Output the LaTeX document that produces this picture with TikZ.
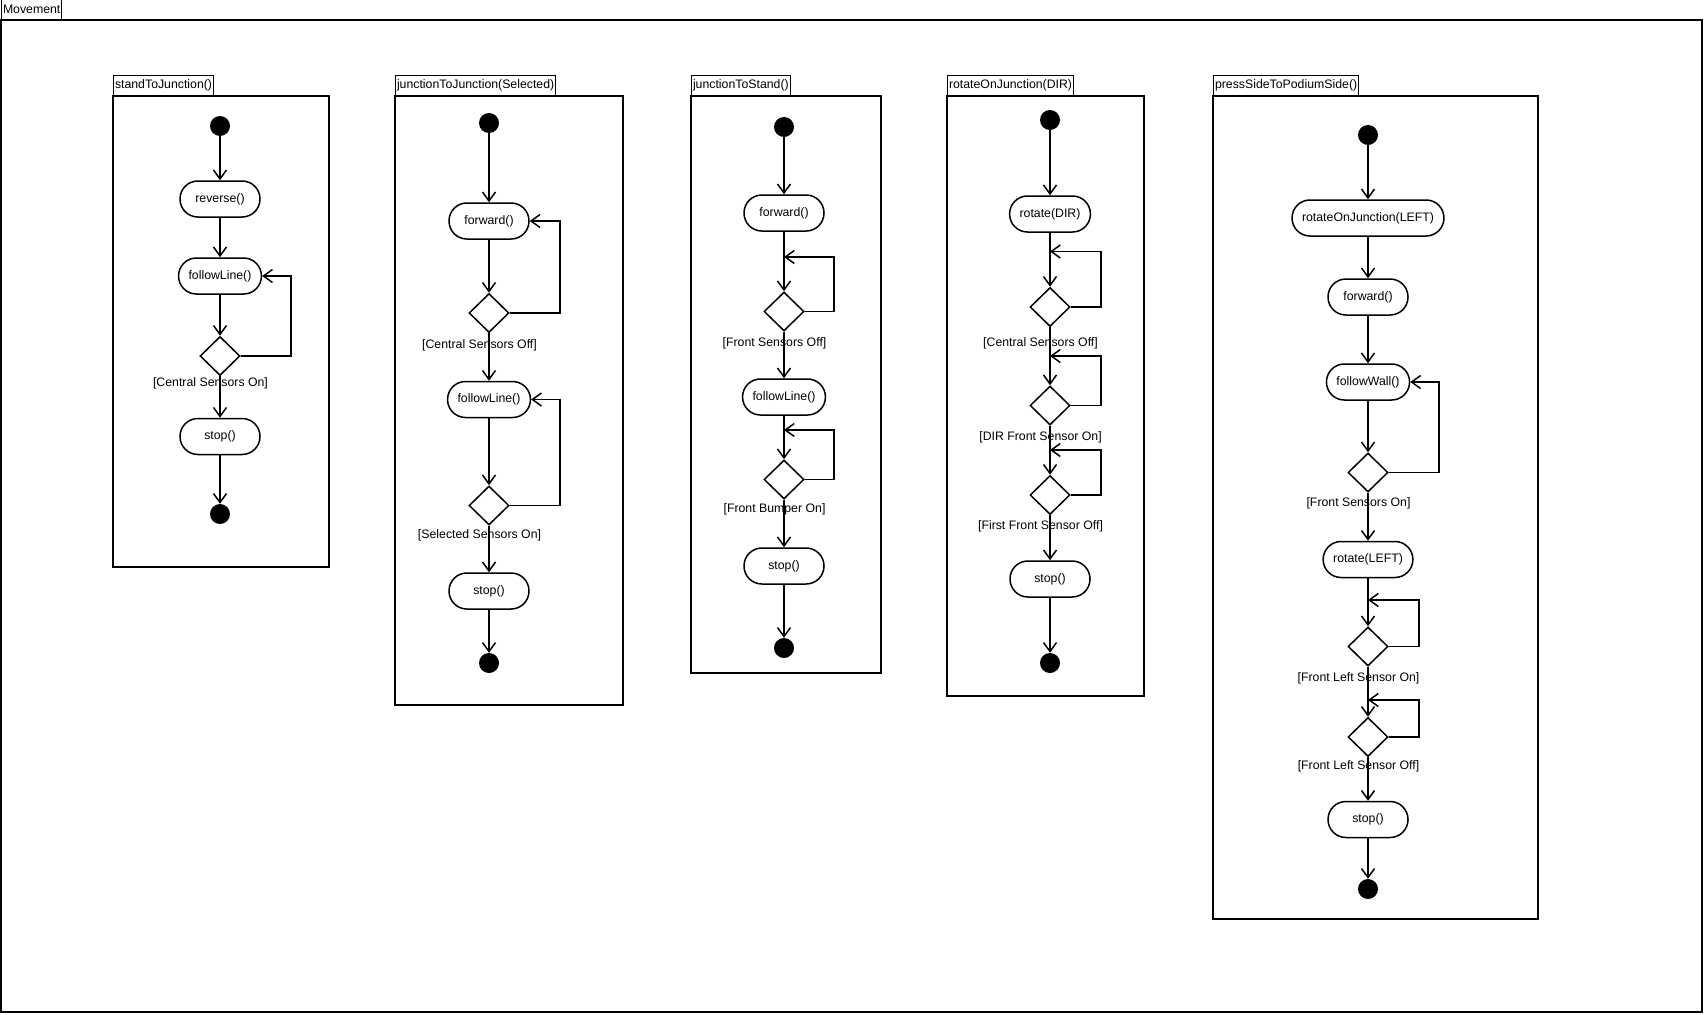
\documentclass[tikz,border=0pt]{standalone}
\usepackage{fontspec}
\setmainfont{Liberation Sans}
\usepackage{tikz}
\usetikzlibrary{arrows.meta,shapes.geometric}

\begin{document}
\begin{tikzpicture}[x=1pt,y=-1pt,
  every node/.style={font=\fontsize{12.3}{14}\selectfont},
  frame/.style={draw, line width=1.8pt},
  tab/.style={draw, line width=1pt, anchor=south west, inner xsep=1.5pt, inner ysep=0pt, minimum height=19.5pt},
  action/.style={draw, rectangle, rounded corners=17.9pt, line width=1.5pt, minimum width=80pt, minimum height=36pt, inner xsep=10pt},
  decision/.style={draw, diamond, line width=1.5pt, minimum width=40pt, minimum height=39pt, inner sep=0pt},
  initial/.style={circle, fill=black, minimum size=20pt, inner sep=0pt},
  final/.style={circle, fill=black, minimum size=20pt, inner sep=0pt},
  guard/.style={inner sep=0pt},
  flow/.style={line width=1.5pt, -{Straight Barb[length=9pt,width=13pt,line width=1.5pt]}}]
\useasboundingbox (0,0) rectangle (1704,1014);

% outer package
\draw[frame] (1,20) rectangle (1702,1012);
\node[tab] (tmove) at (1,20) {Movement};

% standToJunction()
\draw[frame] (113,96) rectangle (329,567);
\node[tab] (t1) at (113,96) {standToJunction()};
\node[initial] (s1start) at (220,126) {};
\node[action] (s1rev) at (220,199) {reverse()};
\node[action] (s1fol) at (220,276) {followLine()};
\node[decision] (s1dec) at (220,356) {};
\node[guard] (s1g) at (210.5,383) {[Central Sensors On]};
\node[action] (s1stop) at (220,436.5) {stop()};
\node[final] (s1end) at (220,514) {};
\coordinate (s1loop) at (291,276);
\draw[flow] (s1start) -- (s1rev);
\draw[flow] (s1rev) -- (s1fol);
\draw[flow] (s1fol) -- (s1dec);
\draw[flow] (s1dec.east) -| (s1loop) -- (s1fol.east);
\draw[flow] (s1dec) -- (s1stop);
\draw[flow] (s1stop) -- (s1end);

% junctionToJunction(Selected)
\draw[frame] (395,96) rectangle (623,705);
\node[tab] (t2) at (395,96) {junctionToJunction(Selected)};
\node[initial] (s2start) at (489,123) {};
\node[action] (s2fwd) at (489,221) {forward()};
\node[decision] (s2dec1) at (489,313) {};
\node[guard] (s2g1) at (479.5,345) {[Central Sensors Off]};
\node[action] (s2fol) at (489,399.5) {followLine()};
\node[decision] (s2dec2) at (489,505.5) {};
\node[guard] (s2g2) at (479.5,535.5) {[Selected Sensors On]};
\node[action] (s2stop) at (489,591) {stop()};
\node[final] (s2end) at (489,663) {};
\coordinate (s2loop1) at (560,221);
\coordinate (s2loop2) at (560,399.5);
\draw[flow] (s2start) -- (s2fwd);
\draw[flow] (s2fwd) -- (s2dec1);
\draw[flow] (s2dec1.east) -| (s2loop1) -- (s2fwd.east);
\draw[flow] (s2dec1) -- (s2fol);
\draw[flow] (s2fol) -- (s2dec2);
\draw[flow] (s2dec2.east) -| (s2loop2) -- (s2fol.east);
\draw[flow] (s2dec2) -- (s2stop);
\draw[flow] (s2stop) -- (s2end);

% junctionToStand()
\draw[frame] (691,96) rectangle (881,673);
\node[tab] (t3) at (691,96) {junctionToStand()};
\node[initial] (s3start) at (784,127) {};
\node[action] (s3fwd) at (784,213) {forward()};
\node[decision] (s3dec1) at (784,311.5) {};
\node[guard] (s3g1) at (774.5,343.5) {[Front Sensors Off]};
\node[action] (s3fol) at (784,397) {followLine()};
\node[decision] (s3dec2) at (784,479.5) {};
\node[guard] (s3g2) at (774.5,509.5) {[Front Bumper On]};
\node[action] (s3stop) at (784,566) {stop()};
\node[final] (s3end) at (784,648) {};
\coordinate (s3in1) at (784,257);
\coordinate (s3loop1) at (834,257);
\coordinate (s3in2) at (784,430);
\coordinate (s3loop2) at (834,430);
\draw[flow] (s3start) -- (s3fwd);
\draw[flow] (s3fwd) -- (s3dec1);
\draw[flow] (s3dec1.east) -| (s3loop1) -- (s3in1);
\draw[flow] (s3dec1) -- (s3fol);
\draw[flow] (s3fol) -- (s3dec2);
\draw[flow] (s3dec2.east) -| (s3loop2) -- (s3in2);
\draw[flow] (s3dec2) -- (s3stop);
\draw[flow] (s3stop) -- (s3end);

% rotateOnJunction(DIR)
\draw[frame] (947,96) rectangle (1144,696);
\node[tab] (t4) at (947,96) {rotateOnJunction(DIR)};
\node[initial] (s4start) at (1050,120) {};
\node[action] (s4rot) at (1050,214) {rotate(DIR)};
\node[decision] (s4dec1) at (1050,307) {};
\node[guard] (s4g1) at (1040.5,343) {[Central Sensors Off]};
\node[decision] (s4dec2) at (1050,405.5) {};
\node[guard] (s4g2) at (1040.5,437) {[DIR Front Sensor On]};
\node[decision] (s4dec3) at (1050,495) {};
\node[guard] (s4g3) at (1040.5,526) {[First Front Sensor Off]};
\node[action] (s4stop) at (1050,579) {stop()};
\node[final] (s4end) at (1050,663) {};
\coordinate (s4in1) at (1050,251.5);
\coordinate (s4loop1) at (1101,251.5);
\coordinate (s4in2) at (1050,356);
\coordinate (s4loop2) at (1101,356);
\coordinate (s4in3) at (1050,450);
\coordinate (s4loop3) at (1101,450);
\draw[flow] (s4start) -- (s4rot);
\draw[flow] (s4rot) -- (s4dec1);
\draw[flow] (s4dec1.east) -| (s4loop1) -- (s4in1);
\draw[flow] (s4dec1) -- (s4dec2);
\draw[flow] (s4dec2.east) -| (s4loop2) -- (s4in2);
\draw[flow] (s4dec2) -- (s4dec3);
\draw[flow] (s4dec3.east) -| (s4loop3) -- (s4in3);
\draw[flow] (s4dec3) -- (s4stop);
\draw[flow] (s4stop) -- (s4end);

% pressSideToPodiumSide()
\draw[frame] (1213,96) rectangle (1538,919);
\node[tab] (t5) at (1213,96) {pressSideToPodiumSide()};
\node[initial] (s5start) at (1368,135) {};
\node[action] (s5rotj) at (1368,218) {rotateOnJunction(LEFT)};
\node[action] (s5fwd) at (1368,297) {forward()};
\node[action] (s5wall) at (1368,382) {followWall()};
\node[decision] (s5dec) at (1368,472.5) {};
\node[guard] (s5g) at (1358.5,503) {[Front Sensors On]};
\node[action] (s5rotl) at (1368,559.5) {rotate(LEFT)};
\node[decision] (s5dec1) at (1368,646.5) {};
\node[guard] (s5g1) at (1358.5,678) {[Front Left Sensor On]};
\node[decision] (s5dec2) at (1368,737) {};
\node[guard] (s5g2) at (1358.5,766) {[Front Left Sensor Off]};
\node[action] (s5stop) at (1368,819.5) {stop()};
\node[final] (s5end) at (1368,889) {};
\coordinate (s5loop) at (1439,382);
\coordinate (s5in1) at (1368,600);
\coordinate (s5loop1) at (1419,600);
\coordinate (s5in2) at (1368,700);
\coordinate (s5loop2) at (1419,700);
\draw[flow] (s5start) -- (s5rotj);
\draw[flow] (s5rotj) -- (s5fwd);
\draw[flow] (s5fwd) -- (s5wall);
\draw[flow] (s5wall) -- (s5dec);
\draw[flow] (s5dec.east) -| (s5loop) -- (s5wall.east);
\draw[flow] (s5dec) -- (s5rotl);
\draw[flow] (s5rotl) -- (s5dec1);
\draw[flow] (s5dec1.east) -| (s5loop1) -- (s5in1);
\draw[flow] (s5dec1) -- (s5dec2);
\draw[flow] (s5dec2.east) -| (s5loop2) -- (s5in2);
\draw[flow] (s5dec2) -- (s5stop);
\draw[flow] (s5stop) -- (s5end);
\end{tikzpicture}
\end{document}
